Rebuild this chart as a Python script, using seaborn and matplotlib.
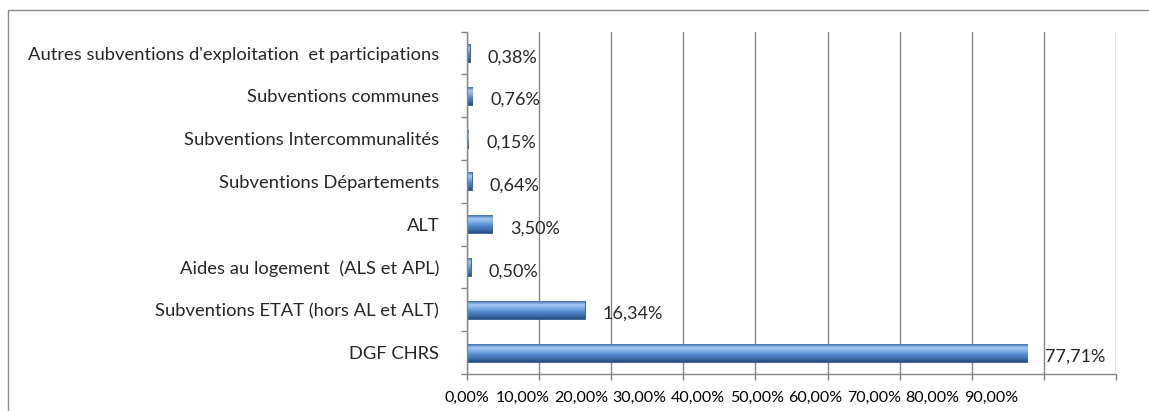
import numpy as np
import pandas as pd
import seaborn as sns
import matplotlib.pyplot as plt
from matplotlib.colors import LinearSegmentedColormap
from matplotlib.patches import Rectangle

# data (top to bottom)
categories = [
    "Autres subventions d'exploitation  et participations",
    "Subventions communes",
    "Subventions Intercommunalités",
    "Subventions Départements",
    "ALT",
    "Aides au logement  (ALS et APL)",
    "Subventions ETAT (hors AL et ALT)",
    "DGF CHRS",
]
values = [0.38, 0.76, 0.15, 0.64, 3.50, 0.50, 16.34, 77.71]
tick_values = [0, 10, 20, 30, 40, 50, 60, 70, 80, 90]

df = pd.DataFrame({"Source": categories, "Part": values})

sns.set_style("white")
plt.rcParams["font.family"] = ["Lato", "DejaVu Sans"]
plt.rcParams["ytick.left"] = True
plt.rcParams["xtick.bottom"] = True

fig = plt.figure(figsize=(11.49, 4.11), dpi=100)
ax = fig.add_axes([467 / 1149, 1 - 374 / 411, (1116 - 467) / 1149, (374 - 31.7) / 411])

sns.barplot(data=df, x="Part", y="Source", color="#4a7fc1", width=0.42,
            edgecolor="#2c5a92", linewidth=0.6, ax=ax)

# 3D-ish gradient on the bars
grad = LinearSegmentedColormap.from_list(
    "bevel", ["#3d6fae", "#a6cbf2", "#78abe3", "#5189cd", "#3f70ae", "#254e84"])
g = np.linspace(0, 1, 64).reshape(-1, 1)
for p in ax.patches:
    x0, y0 = p.get_x(), p.get_y()
    w, h = p.get_width(), p.get_height()
    im = ax.imshow(g, cmap=grad, extent=[x0, x0 + w, y0 + h, y0],
                   aspect="auto", origin="upper", zorder=p.get_zorder() + 0.1)
    im.set_clip_path(p)

ax.set_xlim(0, 90)
ax.set_ylim(len(categories) - 0.5, -0.5)

# gridlines / tick marks at every 10 %
gray = "#868686"
ax.xaxis.remove_overlapping_locs = False
ax.set_xticks(tick_values)
ax.set_xticklabels([])
ax.grid(axis="x", which="major", color=gray, linewidth=1)
ax.set_axisbelow(True)
ax.tick_params(axis="x", which="major", bottom=True, direction="out", length=4, color=gray, width=1)

# tick labels are packed closer together than the gridlines in the original
label_pos = [0] + [7.7 + 8.12 * k for k in range(len(tick_values) - 1)]
ax.set_xticks(label_pos, minor=True)
ax.set_xticklabels([f"{v:.2f}%".replace(".", ",") for v in tick_values], minor=True)
ax.tick_params(axis="x", which="minor", bottom=True, length=0, pad=12, labelsize=11.5,
               labelcolor="#000000")

# tick marks at category boundaries, labels at centres
ax.yaxis.remove_overlapping_locs = False
ax.set_yticks(np.arange(-0.5, len(categories), 1))
ax.set_yticklabels([])
ax.set_yticks(range(len(categories)), minor=True)
ax.set_yticklabels(categories, minor=True)
ax.tick_params(axis="y", which="major", left=True, direction="out", length=4, color=gray, width=1)
ax.tick_params(axis="y", which="minor", left=True, length=0, pad=20, labelsize=13.2)
ax.grid(axis="y", visible=False, which="both")
for t in ax.yaxis.get_major_ticks():
    t.tick1line.set_visible(True)

ax.set_xlabel("")
ax.set_ylabel("")
for side in ["top", "right"]:
    ax.spines[side].set_visible(False)
for side in ["left", "bottom"]:
    ax.spines[side].set_color(gray)
    ax.spines[side].set_linewidth(1)

# value labels
for i, v in enumerate(values):
    ax.annotate(f"{v:.2f}%".replace(".", ","), xy=(v, i), xytext=(13, -3),
                textcoords="offset points", va="center", ha="left", fontsize=13)

# outer chart frame (only top/left visible in the crop)
fig.patches.append(Rectangle((8 / 1149, -0.2), 1.2, 1.2 - 10 / 411, transform=fig.transFigure,
                             fill=False, edgecolor="#8c8c8c", linewidth=1))

fig.savefig("out.png", dpi=100)
